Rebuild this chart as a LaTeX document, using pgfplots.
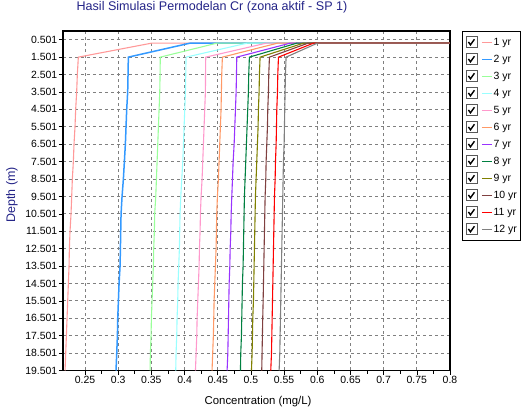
\documentclass[border=0pt]{standalone}
\usepackage{fontspec}
\setmainfont{Liberation Sans}
\usepackage{pgfplots}
\usepackage{pgfplotstable}
\pgfplotsset{compat=1.18}

\definecolor{titleblue}{RGB}{35,35,135}
\definecolor{gridgray}{RGB}{128,128,128}
\definecolor{yrA}{RGB}{255,153,153}
\definecolor{yrB}{RGB}{51,153,255}
\definecolor{yrC}{RGB}{153,255,153}
\definecolor{yrD}{RGB}{153,255,255}
\definecolor{yrE}{RGB}{255,153,204}
\definecolor{yrF}{RGB}{255,153,102}
\definecolor{yrG}{RGB}{153,51,255}
\definecolor{yrH}{RGB}{0,128,64}
\definecolor{yrI}{RGB}{128,128,0}
\definecolor{yrJ}{RGB}{128,64,64}
\definecolor{yrK}{RGB}{255,0,0}
\definecolor{yrL}{RGB}{128,128,128}

% Simulated Cr concentration (mg/L) against depth (m), one column per year
\pgfplotstableread{
depth  c1     c2     c3     c4     c5     c6     c7     c8     c9     c10    c11    c12
0.700  0.800  0.800  0.800  0.800  0.800  0.800  0.800  0.800  0.800  0.800  0.800  0.800
0.700  0.3500 0.4080 0.4485 0.4940 0.5230 0.5400 0.5590 0.5690 0.5790 0.5860 0.5940 0.6000
1.501  0.2399 0.3153 0.3634 0.4023 0.4319 0.4570 0.4787 0.4977 0.5138 0.5279 0.5415 0.5530
2.501  0.2384 0.3148 0.3631 0.4018 0.4316 0.4560 0.4782 0.4967 0.5128 0.5269 0.5405 0.5520
3.501  0.2374 0.3143 0.3626 0.4013 0.4314 0.4555 0.4777 0.4962 0.5123 0.5264 0.5400 0.5515
4.501  0.2359 0.3128 0.3616 0.4003 0.4304 0.4550 0.4767 0.4952 0.5113 0.5254 0.5390 0.5510
5.501  0.2349 0.3118 0.3606 0.3993 0.4294 0.4540 0.4757 0.4942 0.5108 0.5249 0.5385 0.5505
6.501  0.2334 0.3108 0.3596 0.3983 0.4284 0.4530 0.4747 0.4932 0.5098 0.5239 0.5380 0.5500
7.501  0.2324 0.3093 0.3586 0.3973 0.4274 0.4520 0.4732 0.4922 0.5088 0.5229 0.5370 0.5490
8.501  0.2309 0.3078 0.3576 0.3958 0.4264 0.4510 0.4722 0.4912 0.5078 0.5224 0.5365 0.5485
9.501  0.2299 0.3058 0.3566 0.3943 0.4249 0.4495 0.4712 0.4902 0.5068 0.5214 0.5355 0.5480
10.501 0.2289 0.3043 0.3550 0.3932 0.4239 0.4485 0.4702 0.4897 0.5063 0.5209 0.5350 0.5475
11.501 0.2274 0.3038 0.3545 0.3927 0.4234 0.4480 0.4697 0.4892 0.5058 0.5204 0.5345 0.5470
12.501 0.2264 0.3033 0.3535 0.3922 0.4224 0.4475 0.4687 0.4887 0.5053 0.5199 0.5340 0.5465
13.501 0.2259 0.3028 0.3530 0.3912 0.4219 0.4465 0.4682 0.4882 0.5048 0.5194 0.5335 0.5460
14.501 0.2249 0.3013 0.3520 0.3902 0.4209 0.4455 0.4672 0.4872 0.5043 0.5189 0.5330 0.5455
15.501 0.2239 0.3003 0.3510 0.3897 0.4199 0.4445 0.4667 0.4867 0.5038 0.5184 0.5325 0.5450
16.501 0.2229 0.2993 0.3500 0.3887 0.4189 0.4440 0.4662 0.4862 0.5028 0.5178 0.5320 0.5445
17.501 0.2219 0.2988 0.3495 0.3882 0.4184 0.4434 0.4657 0.4857 0.5023 0.5173 0.5315 0.5440
18.501 0.2209 0.2978 0.3485 0.3872 0.4174 0.4424 0.4652 0.4847 0.5018 0.5168 0.5310 0.5435
19.501 0.2199 0.2967 0.3480 0.3867 0.4164 0.4414 0.4641 0.4842 0.5008 0.5163 0.5299 0.5425
}\profiles

\begin{document}
\begin{tikzpicture}
\begin{axis}[
  name=ax,
  scale only axis,
  width=387bp, height=339.5bp,
  xmin=0.2168, xmax=0.8,
  ymin=0, ymax=19.501,
  y dir=reverse,
  clip=true,
  /pgf/number format/assume math mode=true,
  xtick={0.25,0.3,0.35,0.4,0.45,0.5,0.55,0.6,0.65,0.7,0.75,0.8},
  xticklabels={0.25,0.3,0.35,0.4,0.45,0.5,0.55,0.6,0.65,0.7,0.75,0.8},
  minor x tick num=1,
  ytick={0.501,1.501,2.501,3.501,4.501,5.501,6.501,7.501,8.501,9.501,10.501,11.501,12.501,13.501,14.501,15.501,16.501,17.501,18.501,19.501},
  yticklabels={0.501,1.501,2.501,3.501,4.501,5.501,6.501,7.501,8.501,9.501,10.501,11.501,12.501,13.501,14.501,15.501,16.501,17.501,18.501,19.501},
  xtick pos=bottom, ytick pos=left,
  tick align=outside,
  major tick length=4bp, minor tick length=3bp,
  tick style={black, line width=0.6bp},
  grid=major,
  major grid style={gridgray, line width=0.8bp, dash pattern=on 3bp off 3bp},
  axis line style={black, line width=1.5bp},
  ticklabel style={font=\fontsize{10.5}{12}\selectfont, inner sep=1.5bp},
  title={Hasil Simulasi Permodelan Cr (zona aktif - SP 1)},
  title style={at={(0.385,1.053)}, anchor=center, font=\fontsize{12.6}{14}\selectfont, text=titleblue},
  xlabel={Concentration (mg/L)},
  xlabel style={at={(0.504,-0.0915)}, anchor=center, font=\fontsize{11.4}{13}\selectfont},
  ylabel={Depth (m)},
  ylabel style={at={(-0.132,0.517)}, anchor=center, font=\fontsize{12.5}{14}\selectfont, text=titleblue},
  legend style={
    at={(1,1)}, anchor=north west, xshift=12bp,
    draw=black, line width=1bp, fill=white,
    font=\fontsize{10.5}{12}\selectfont,
    inner xsep=3bp, inner ysep=4.5bp, row sep=4.5bp,
    nodes={inner sep=1bp, text height=8bp, text depth=2.5bp},
  },
  legend cell align=left,
  legend image code/.code={
    \draw[solid, line width=0.7bp, draw=gray!70!black, fill=white] (0bp,-5.5bp) rectangle (11bp,5.5bp);
    \draw[solid, line width=1.4bp, black] (2.6bp,0.3bp) -- (4.6bp,-2.6bp) -- (8.6bp,3bp);
    \draw[#1] (16bp,0bp) -- (26bp,0bp);
  },
  every axis plot/.append style={line width=1.1bp},
]
\addplot[yrA] table[x=c1, y=depth] {\profiles};
\addplot[yrB, line width=1.5bp] table[x=c2, y=depth] {\profiles};
\addplot[yrC] table[x=c3, y=depth] {\profiles};
\addplot[yrD] table[x=c4, y=depth] {\profiles};
\addplot[yrE] table[x=c5, y=depth] {\profiles};
\addplot[yrF] table[x=c6, y=depth] {\profiles};
\addplot[yrG] table[x=c7, y=depth] {\profiles};
\addplot[yrH] table[x=c8, y=depth] {\profiles};
\addplot[yrI] table[x=c9, y=depth] {\profiles};
\addplot[yrJ] table[x=c10, y=depth] {\profiles};
\addplot[yrK] table[x=c11, y=depth] {\profiles};
\addplot[yrL] table[x=c12, y=depth] {\profiles};
\legend{1 yr,2 yr,3 yr,4 yr,5 yr,6 yr,7 yr,8 yr,9 yr,10 yr,11 yr,12 yr}
\end{axis}
\pgfresetboundingbox
\path (ax.south west) ++(-63bp,-39.5bp) rectangle ++(526bp,410bp);
\end{tikzpicture}
\end{document}
